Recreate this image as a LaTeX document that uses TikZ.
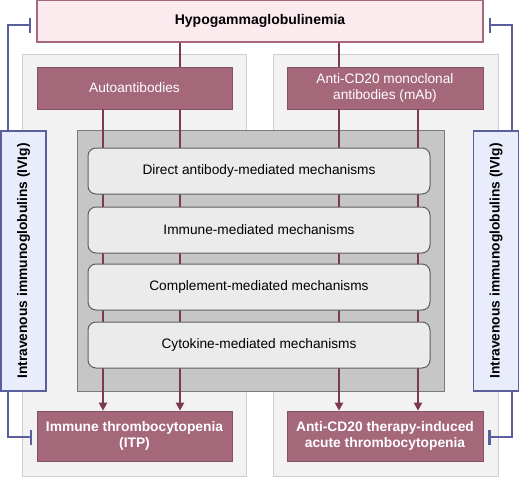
\documentclass[tikz,border=0pt]{standalone}
\usepackage{fontspec}
\setmainfont{Liberation Sans}
\usetikzlibrary{arrows.meta}
\definecolor{maroonfill}{HTML}{A5677A}
\definecolor{maroonline}{HTML}{7B3A4E}
\definecolor{pinkfill}{HTML}{FBEBEF}
\definecolor{panelfill}{HTML}{F2F2F2}
\definecolor{panelline}{HTML}{CFCFCF}
\definecolor{darkfill}{HTML}{C6C6C6}
\definecolor{darkline}{HTML}{7A7A7A}
\definecolor{mechfill}{HTML}{EBEBEB}
\definecolor{mechline}{HTML}{5E5E5E}
\definecolor{ivfill}{HTML}{E9ECFA}
\definecolor{ivline}{HTML}{5A5F9E}
\tikzset{
  box/.style={rectangle, inner sep=0pt, align=center, font=\fontsize{13.7}{16}\selectfont},
  hypobox/.style={box, fill=pinkfill, draw=maroonfill, line width=1.2pt, font=\fontsize{14}{16}\selectfont\bfseries},
  panel/.style={box, fill=panelfill, draw=panelline, line width=1pt},
  darkbox/.style={box, fill=darkfill, draw=darkline, line width=1pt},
  topbox/.style={box, fill=maroonfill, draw=maroonfill!80!black, line width=0.6pt, text=white},
  botbox/.style={topbox, font=\fontsize{13.8}{16.5}\selectfont\bfseries},
  mechbox/.style={box, fill=mechfill, draw=mechline, line width=1pt, rounded corners=8pt},
  ivbox/.style={box, fill=ivfill, draw=ivline, line width=1.2pt, font=\fontsize{13.8}{16}\selectfont\bfseries},
  conn/.style={draw=maroonline, line width=2.2pt},
  arr/.style={conn, -{Triangle[width=8pt,length=8pt]}},
  inhib/.style={draw=ivline, line width=2.2pt, -{Bar[width=15pt,line width=2.2pt]}, shorten >=5pt},
}
\begin{document}
\begin{tikzpicture}[x=1pt,y=-1pt]
\useasboundingbox (0,0) rectangle (520,477);
% panels
\node[panel, minimum width=224pt, minimum height=422pt] (panelL) at (134,265) {};
\node[panel, minimum width=225pt, minimum height=422pt] (panelR) at (385.5,265) {};
% top
\node[hypobox, minimum width=446pt, minimum height=42pt] (hypo) at (260,21) {Hypogammaglobulinemia};
\node[topbox, minimum width=195pt, minimum height=42pt] (auto) at (134.5,88) {Autoantibodies};
\node[topbox, minimum width=196pt, minimum height=42pt] (cd20) at (385,88) {Anti-CD20 monoclonal\\antibodies (mAb)};
% dark central box
\node[darkbox, minimum width=367pt, minimum height=261pt] (dark) at (260.5,260.5) {};
% coordinates for line columns
\coordinate (c1) at (103,0);
\coordinate (c2) at (180,0);
\coordinate (c3) at (339,0);
\coordinate (c4) at (418,0);
% bottom boxes
\node[botbox, minimum width=195pt, minimum height=50pt] (itp) at (134.5,436) {Immune thrombocytopenia\\(ITP)};
\node[botbox, minimum width=196pt, minimum height=50pt] (acute) at (385,436) {Anti-CD20 therapy-induced\\acute thrombocytopenia};
% connectors
\draw[conn] (hypo.south -| c2) -- (auto.north -| c2);
\draw[conn] (hypo.south -| c3) -- (cd20.north -| c3);
\draw[arr] (auto.south -| c1) -- (itp.north -| c1);
\draw[arr] (auto.south -| c2) -- (itp.north -| c2);
\draw[arr] (cd20.south -| c3) -- (acute.north -| c3);
\draw[arr] (cd20.south -| c4) -- (acute.north -| c4);
% mechanism boxes
\node[mechbox, minimum width=342pt, minimum height=46pt] (m1) at (259,171) {Direct antibody-mediated mechanisms};
\node[mechbox, minimum width=342pt, minimum height=46pt] (m2) at (259,230) {Immune-mediated mechanisms};
\node[mechbox, minimum width=342pt, minimum height=46pt] (m3) at (259,287) {Complement-mediated mechanisms};
\node[mechbox, minimum width=342pt, minimum height=46pt] (m4) at (259,345) {Cytokine-mediated mechanisms};
% IVIg boxes
\node[ivbox, minimum width=260pt, minimum height=45pt, rotate=90] (ivL) at (23.5,261) {Intravenous immunoglobulins (IVIg)};
\node[ivbox, minimum width=260pt, minimum height=45pt, rotate=90] (ivR) at (496,261) {Intravenous immunoglobulins (IVIg)};
% inhibition connectors
\coordinate (lx) at (8,0);
\coordinate (rx) at (512,0);
\coordinate (ty) at (0,25);
\coordinate (by) at (0,437);
\draw[inhib] (ivL.east -| lx) -- (lx |- ty) -- (hypo.west |- ty);
\draw[inhib] (ivL.west -| lx) -- (lx |- by) -- (itp.west |- by);
\draw[inhib] (ivR.east -| rx) -- (rx |- ty) -- (hypo.east |- ty);
\draw[inhib] (ivR.west -| rx) -- (rx |- by) -- (acute.east |- by);
\end{tikzpicture}
\end{document}
